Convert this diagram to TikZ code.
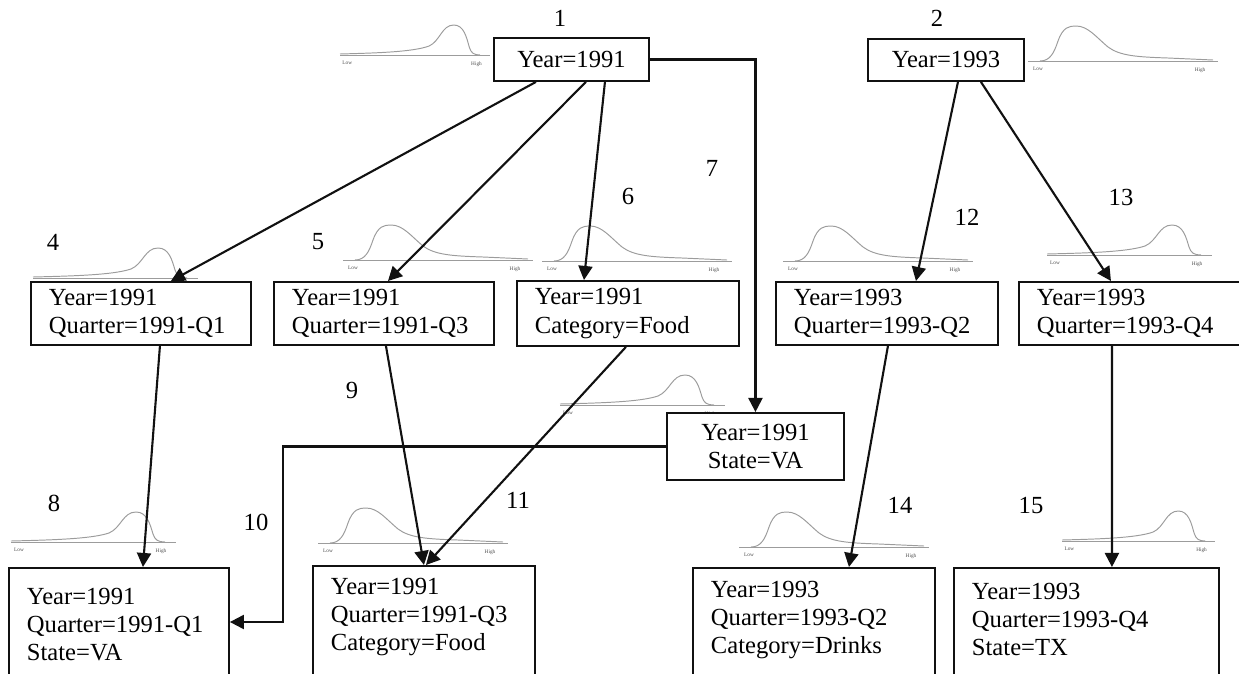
\documentclass[tikz,border=0pt]{standalone}
\usepackage{fontspec}
\setmainfont{Liberation Serif}
\usetikzlibrary{arrows.meta}
\definecolor{curvegray}{HTML}{9C9C9C}
\definecolor{edge}{HTML}{111111}

\tikzset{
  box/.style={draw=edge, line width=1.1pt, fill=white, rectangle, anchor=north west,
    align=left, inner xsep=0.36cm, inner ysep=2pt, font=\fontsize{14}{16}\selectfont},
  tallbox/.style={box, text depth=60pt},
  arr/.style={-{Triangle[length=8pt,width=8pt]}, line width=1.2pt, draw=edge},
  dist/.style={draw=curvegray, line width=0.55pt},
  tag/.style={font=\fontsize{3}{3}\selectfont, text=black!70, inner sep=0pt},
  num/.style={font=\fontsize{14}{16}\selectfont, inner sep=0pt},
  pics/peakleft/.style={code={
    \draw[dist] (0,0) -- (190,0);
    \draw[dist] (12,0) .. controls (22,0) and (26,-8) .. (30,-20)
      .. controls (35,-34) and (41,-35) .. (48,-35)
      .. controls (60,-35) and (68,-24) .. (80,-14)
      .. controls (92,-5) and (110,-4) .. (140,-3) -- (185,-1);
    \node[tag] at (10,8) {Low};
    \node[tag] at (172,9) {High};
  }},
  pics/peakright/.style={code={
    \draw[dist] (0,0) -- (165,0);
    \draw[dist] (0,-1) .. controls (40,-2) and (80,-3) .. (98,-9)
      .. controls (110,-14) and (112,-30) .. (125,-30)
      .. controls (136,-30) and (139,-18) .. (142,-8)
      .. controls (144,-2) and (147,0) .. (154,0);
    \node[tag] at (8,8) {Low};
    \node[tag] at (150,9) {High};
  }}
}

\begin{document}
\begin{tikzpicture}[x=0.02cm, y=-0.02cm]
  \useasboundingbox (0,0) rectangle (1239,673);
  \clip (0,0) rectangle (1239,673);

  % Distributions
  \pic[xscale=0.91] at (340,55) {peakright};
  \pic at (1028,61) {peakleft};
  \pic at (33,278) {peakright};
  \pic at (343,260) {peakleft};
  \pic at (542,261) {peakleft};
  \pic at (560,405) {peakright};
  \pic at (783,261) {peakleft};
  \pic at (1047,255) {peakright};
  \pic at (11,542) {peakright};
  \pic at (318,543) {peakleft};
  \pic at (739,547) {peakleft};
  \pic[xscale=0.93] at (1062,541) {peakright};

  % Cells
  \node[box, align=center, minimum width=3.1cm, minimum height=0.86cm] (b1) at (493,37) {Year=1991};
  \node[box, align=center, minimum width=3.12cm, minimum height=0.84cm] (b2) at (867,38) {Year=1993};
  \node[box, text width=3.68cm, minimum height=1.26cm] (b4) at (30,281) {Year=1991\\Quarter=1991-Q1};
  \node[box, text width=3.68cm, minimum height=1.26cm] (b5) at (273,281) {Year=1991\\Quarter=1991-Q3};
  \node[box, text width=3.72cm, minimum height=1.3cm] (b6) at (516,280) {Year=1991\\Category=Food};
  \node[box, text width=3.72cm, minimum height=1.26cm] (b12) at (775,281) {Year=1993\\Quarter=1993-Q2};
  \node[box, text width=3.72cm, minimum height=1.26cm] (b13) at (1018,281) {Year=1993\\Quarter=1993-Q4};
  \node[box, align=center, minimum width=3.54cm, minimum height=1.34cm] (b7) at (666,412) {Year=1991\\State=VA};
  \node[tallbox, text width=3.68cm, inner ysep=0.4cm] (b8) at (8,567) {Year=1991\\Quarter=1991-Q1\\State=VA};
  \node[tallbox, text width=3.72cm, inner ysep=0.24cm] (b11) at (312,565) {Year=1991\\Quarter=1991-Q3\\Category=Food};
  \node[tallbox, text width=4.12cm, inner ysep=0.26cm] (b14) at (692,567) {Year=1993\\Quarter=1993-Q2\\Category=Drinks};
  \node[tallbox, text width=4.58cm, inner ysep=0.3cm] (b15) at (953,567) {Year=1993\\Quarter=1993-Q4\\State=TX};

  % Numbers
  \node[num] (n1) at (560,18) {1};
  \node[num] (n2) at (937,18) {2};
  \node[num] (n4) at (53,242) {4};
  \node[num] (n5) at (318,242) {5};
  \node[num] (n6) at (628,196) {6};
  \node[num] (n7) at (712,168) {7};
  \node[num] (n12) at (967,217) {12};
  \node[num] (n13) at (1121,197) {13};
  \node[num] (n9) at (352,390) {9};
  \node[num] (n8) at (54,503) {8};
  \node[num] (n10) at (256,522) {10};
  \node[num] (n11) at (518,500) {11};
  \node[num] (n14) at (900,505) {14};
  \node[num] (n15) at (1031,505) {15};

  % Links
  \coordinate (bend) at (283,500);
  \draw[arr] ([xshift=-0.71cm]b1.south) -- ([xshift=0.6cm]b4.north);
  \draw[arr] ([xshift=0.29cm]b1.south) -- ([xshift=0.08cm]b5.north);
  \draw[arr] ([xshift=0.67cm]b1.south) -- ([xshift=-0.88cm]b6.north);
  \draw[arr] (b1.east) -| (b7.north);
  \draw[arr] ([xshift=0.24cm]b2.south) -- ([xshift=0.58cm]b12.north);
  \draw[arr] ([xshift=0.7cm]b2.south) -- ([xshift=-0.38cm]b13.north);
  \draw[arr] ([xshift=0.38cm]b4.south) -- ([xshift=0.48cm]b8.north);
  \draw[arr] ([xshift=0.04cm]b5.south) -- (b11.north);
  \draw[arr] ([xshift=-0.04cm]b6.south) -- ([xshift=0.04cm]b11.north);
  \draw[arr] (b7.west) -| (bend) |- ([yshift=-1.1cm]b8.north east);
  \draw[arr] ([xshift=0.02cm]b12.south) -- ([xshift=0.7cm]b14.north);
  \draw[arr] ([xshift=-0.36cm]b13.south) -- ([xshift=0.51cm]b15.north);
\end{tikzpicture}
\end{document}
